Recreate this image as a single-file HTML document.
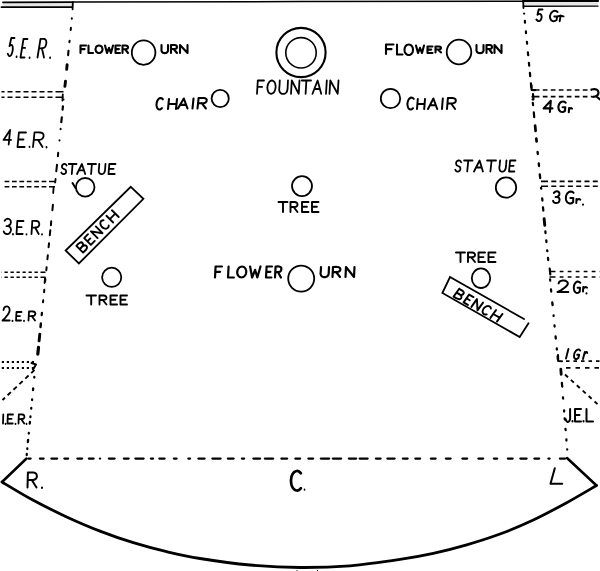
<!DOCTYPE html>
<html><head><meta charset="utf-8">
<title>Stage plan</title>
<style>
html,body{margin:0;padding:0;background:#fff;}
body{width:600px;height:571px;overflow:hidden;font-family:"Liberation Sans",sans-serif;}
svg{display:block;}
</style></head><body>
<svg width="600" height="571" viewBox="0 0 600 571">
<rect width="600" height="571" fill="#fff"/>
<g fill="none" stroke="#000" stroke-linecap="round" stroke-linejoin="round">
<!-- top lines -->
<rect x="3" y="3" width="69" height="3.6" fill="#e6e6e6" stroke="none"/>
<rect x="524" y="2" width="74" height="3.4" fill="#e6e6e6" stroke="none"/>
<path d="M3 2.3 L73 2.2" stroke-width="1.8"/>
<path d="M73 2 L300 1.6 L523 1.3" stroke-width="1.5"/>
<path d="M523 1.1 L598 0.9" stroke-width="2"/>
<path d="M1.5 7.2 L72.8 7.2 M72.8 2.5 L72.6 9.3" stroke-width="1.8"/>
<path d="M523.3 6.2 L598 6.1" stroke-width="1.4"/><path d="M523.2 1.5 L523.5 8" stroke-width="1.8"/>
<!-- side dashed lines -->
<path d="M71.8 18.3 L71.8 18.7 M70.9 27.8 L70.7 30 M69.6 40.8 L69.4 42.2 M60.6 128.8 L60.6 129.2 M59.5 140.3 L59.5 140.4 M58.2 152.8 L57.9 156.2 M57 164.8 L56.3 171.2 M52.9 204.8 L52.4 210.2 M51.2 221.3 L50.9 225.2 M50.3 230.3 L49.8 235.2 M49 243.3 L48.6 247.2 M47.8 255.3 L47.4 259.2 M46.6 267.3 L46.3 270.2 M45.4 279.3 L45.1 281.7 M44.3 289.8 L44.1 292.2 M43.2 300.3 L43 302.2" stroke-width="2"/>
<path d="M68.5 50.9 L68.1 55.1" stroke-width="2.1"/>
<path d="M67.1 64.7 L66.7 69.3 M65.5 81.2 L64.9 86.3 M39.8 334.2 L39.1 340.8" stroke-width="2.9"/>
<path d="M63.6 99.5 L63.6 99.6 M55.6 178.8 L55.2 182.5" stroke-width="1.8"/>
<path d="M62.9 106.4 L62.6 109.6 M61.8 117.4 L61.3 122.1 M41.9 312.9 L41.7 315.1" stroke-width="2.2"/>
<path d="M40.9 323.5 L40.5 327" stroke-width="2.4"/>
<path d="M38.5 347.3 L37.8 354.2" stroke-width="3.2"/>
<path d="M34.3 377 L34.3 377.5 M33.2 388.5 L33 390 M32.1 399.5 L32.1 400 M31.3 408 L31.2 408.5 M30.5 416.5 L30.4 417 M29.9 422 L29.8 423.5 M28.8 433 L28.8 433.5 M28.1 440 L27.9 442 M27.3 448.5 L27.3 449" stroke-width="2.3"/>
<path d="M26.8 453.9 L26.7 455.1" stroke-width="2.2"/>
<path d="M524.1 13.5 L524.1 13.6 M524.9 20.9 L525 22.6 M525.9 31.4 L526 33.1 M526.9 41.9 L527.1 43.6 M527.9 52.4 L528.2 55.1 M528.9 62.9 L529.2 65.6 M529.9 72.9 L530.2 76.1 M530.9 83.4 L531.3 87.1 M532.8 102.9 L533.1 105.1 M533.8 112.4 L534.2 117.1 M550.1 279.4 L550.2 280.6 M557.6 356.4 L557.8 359.1" stroke-width="2.2"/>
<path d="M532.5 99.5 L532.5 99.6" stroke-width="2"/>
<path d="M535.1 125.6 L535.6 130.9 M536.3 138.6 L536.6 141.4" stroke-width="2.7"/>
<path d="M537.6 152 L537.8 154 M538.8 163.5 L539 166 M539.8 174.5 L540.2 178 M541.1 188 L541.2 188.5 M542.2 198.5 L542.4 200.5 M543 207.5 L543.3 210.5 M545.4 231.5 L545.5 233 M546.3 240.5 L546.4 242 M547.2 250.5 L547.3 251 M548 258 L548.2 260 M551 289.5 L551.2 291.5 M552.3 302.5 L552.6 305 M553.6 315.5 L553.6 316 M554.5 325.5 L554.6 326.5 M555.6 336.5 L555.8 338.5 M556.8 348.5 L556.9 349.5" stroke-width="2.3"/>
<path d="M544.1 218.7 L544.8 225.3" stroke-width="2.9"/>
<path d="M560.8 369.2 L561.2 374.3" stroke-width="2.8"/>
<path d="M561.9 383 L562.2 386.5 M563 397.5 L563.1 398.5 M564.1 410.5 L564.1 411.5 M564.7 418.5 L564.8 419.5 M565.5 429 L565.6 430 M566.4 439.5 L566.4 440.5 M567.2 449.5 L567.2 449.6" stroke-width="2.3"/>
<!-- bottom dashed -->
<path d="M28.4 458.6 L30.6 458.6 M39.9 458.6 L43.6 458.6 M51.4 458.6 L57.1 458.6 M64.4 458.6 L68.1 458.6 M77.4 458.6 L82.1 458.6 M88.9 458.6 L93.6 458.6 M99.9 458.6 L100.1 458.6 M108.9 458.6 L114.6 458.6 M123.9 458.6 L128.6 458.6 M135.4 458.6 L143.6 458.6 M150.9 458.6 L153.1 458.6 M159.4 458.6 L164.6 458.6 M173.9 458.6 L176.6 458.6 M188.4 458.6 L190.1 458.6 M198.4 458.6 L204.6 458.6 M212.4 458.6 L220.6 458.6 M227.9 458.6 L233.6 458.6 M241.9 458.6 L244.1 458.6 M253.4 458.6 L260.1 458.6 M264.9 458.6 L273.1 458.6 M281.4 458.6 L287.1 458.6 M295.4 458.6 L300.1 458.6 M308.4 458.6 L313.1 458.6 M320.9 458.6 L329.1 458.6 M332.9 458.6 L341.1 458.6 M348.9 458.6 L356.1 458.6 M359.7 458.6 L367.6 458.6 M375.9 458.6 L380.6 458.6 M387.4 458.6 L394.6 458.6 M402.9 458.6 L407.6 458.6 M415.4 458.6 L420.1 458.6 M430.9 458.6 L435.6 458.6 M445.9 458.6 L450.6 458.6 M462.4 458.6 L467.1 458.6 M478.4 458.6 L483.1 458.6 M493.9 458.6 L497.1 458.6 M507.9 458.6 L512.6 458.6 M520.4 458.6 L526.6 458.6 M534.4 458.6 L539.1 458.6 M548.4 458.6 L549.6 458.6 M559.9 458.6 L565.1 458.6" stroke-width="2.3"/>
<!-- stage front -->
<path d="M2 482 C7.2 485.1 22.5 494.5 33.3 500.3 C44.1 506.1 55.6 511.8 66.7 516.9 C77.8 522 88.9 526.8 100 531.1 C111.1 535.4 122.2 539.3 133.3 542.7 C144.4 546.1 155.6 549.1 166.7 551.7 C177.8 554.3 186.1 556.3 200 558.5 C213.9 560.7 233.3 563.5 250 565 C266.7 566.5 283.3 567.4 300 567.5 C316.7 567.6 333.3 567.1 350 565.8 C366.7 564.4 386.1 561.5 400 559.4 C413.9 557.3 422.2 555.7 433.3 553.3 C444.4 550.9 455.6 548 466.7 544.8 C477.8 541.6 488.9 538.1 500 534 C511.1 529.9 522.2 525.2 533.3 520 C544.4 514.8 556.2 508.4 566.7 502.7 C577.2 496.9 591.5 488.4 596.5 485.5" stroke-width="2.8"/>
<path d="M26.5 458.5 L2 482 M596.5 485.5 L567 458" stroke-width="2.5"/>
<!-- wing lines -->
<path d="M63.5 91.7 L55.5 91.7 M63.5 97.3 L55.5 97.3" stroke-width="1.6" stroke-linecap="butt"/><path d="M52.5 91.7 L1.5 91.7 M52.5 97.3 L1.5 97.3" stroke-width="1.6" stroke-dasharray="5 3" stroke-linecap="butt"/>
<path d="M55 181.5 L49 181.5 M55 186.8 L49 186.8" stroke-width="1.5" stroke-linecap="butt"/><path d="M46.3 181.5 L2 181.5 M46.3 186.8 L2 186.8" stroke-width="1.5" stroke-dasharray="4.7 2.7" stroke-linecap="butt"/>
<path d="M45.5 272.3 L40.5 272.3 M45.5 277.3 L40.5 277.3" stroke-width="1.6" stroke-linecap="butt"/><path d="M37.8 272.3 L1.5 272.3 M37.8 277.3 L1.5 277.3" stroke-width="1.6" stroke-dasharray="3.3 2.7" stroke-linecap="butt"/>
<path d="M34 362 L31.8 362 M34 368 L31.8 368" stroke-width="1.8" stroke-linecap="butt"/><path d="M29 362 L1 362 M29 368 L1 368" stroke-width="1.8" stroke-dasharray="2.2 2.8" stroke-linecap="butt"/>
<path d="M34.5 370 L2.5 400" stroke-width="1.9" stroke-dasharray="4.5 3.6" stroke-linecap="butt"/>
<path d="M31.5 363 L36 364.5 L33 369.5" stroke-width="2"/>
<path d="M531.5 90 L539.5 90 M531.5 96.6 L539.5 96.6" stroke-width="1.7" stroke-linecap="butt"/><path d="M542.8 90 L592 90 M542.8 96.6 L592 96.6" stroke-width="1.7" stroke-dasharray="4.7 3.3" stroke-linecap="butt"/>
<path d="M541 181.4 L548 181.4 M541 186.3 L548 186.3" stroke-width="1.6" stroke-linecap="butt"/><path d="M551.3 181.4 L600 181.4 M551.3 186.3 L600 186.3" stroke-width="1.6" stroke-dasharray="5 3.3" stroke-linecap="butt"/>
<path d="M549.5 271.4 L555.5 271.4 M549.5 277 L555.5 277" stroke-width="1.5" stroke-linecap="butt"/><path d="M559.7 271.4 L600 271.4 M559.7 277 L600 277" stroke-width="1.5" stroke-dasharray="3.8 4.2" stroke-linecap="butt"/>
<path d="M566 361.2 L600 361.2" stroke-width="1.8" stroke-dasharray="3.5 4" stroke-linecap="butt"/>
<path d="M566 367.8 L600 367.8" stroke-width="1.8" stroke-dasharray="4.5 5" stroke-linecap="butt"/>
<path d="M565 374.5 L599 405.5" stroke-width="1.9" stroke-dasharray="4 4" stroke-linecap="butt"/>
<path d="M531.3 85 L531.6 89.8 L535 90.2" stroke-width="2.2"/>
<path d="M533 94 L533.4 99.5" stroke-width="2.2"/>
<path d="M591.5 89.5 Q598 88 598.5 92.5 Q598.5 96.5 593 96.8 M597 97 L600 99.5" stroke-width="2.2"/>
<path d="M549.7 268.5 L550.3 274.5" stroke-width="2.2"/>
<path d="M558 355 L558.2 361 L562 361.2" stroke-width="2.1"/>
<path d="M62.8 94.5 L62.4 100.5" stroke-width="1.8"/>
<path d="M53.6 187.5 L53.2 193 M45 278 L44.6 283" stroke-width="1.8"/>
<path d="M297 570.5 L297 571 M317.5 570.5 L317.5 571" stroke-width="1"/>
<!-- circles -->
<g stroke-width="1.8">
<ellipse cx="143.6" cy="52.6" rx="11.8" ry="12.2"/>
<circle cx="301" cy="52.5" r="24.6" stroke-width="2.1"/>
<circle cx="301" cy="52.8" r="15.2" stroke-width="1.6"/>
<circle cx="459" cy="52" r="12.3"/>
<circle cx="220.2" cy="98.5" r="8.6"/>
<circle cx="390.5" cy="98.5" r="9.7"/>
<circle cx="85.2" cy="187.3" r="9.3"/>
<circle cx="302" cy="186.1" r="10"/>
<circle cx="506" cy="187.5" r="10.2"/>
<circle cx="301.2" cy="278.6" r="13"/>
<circle cx="111.7" cy="277.3" r="9.6"/>
<ellipse cx="481" cy="278.2" rx="9.2" ry="9.8"/>
<path d="M72.5 183 L75.5 188" stroke-width="2"/>
</g>
<!-- benches -->
<g stroke-width="1.8" stroke-linejoin="miter">
<path d="M130.8 186.8 L143.4 198.8 L78.9 263.5 L65.6 250.5 Z"/>
<path d="M524 319 L450 277 L442.4 293 L519.7 337 L528.5 323.3"/>
</g>
<!-- lettering -->
<path d="M14.5 38 L11.3 38 L9.5 46.1 M9.5 46.1 C9.8 45.9 10.7 44.9 11.1 44.8 C11.6 44.8 12.1 44.9 12.4 45.6 C12.7 46.2 12.8 47.7 12.8 48.8 C12.8 49.9 12.6 51.3 12.2 52.4 C11.9 53.5 11.3 54.9 10.8 55.5 C10.3 56.1 9.6 56.3 9.1 56 C8.6 55.7 8.1 54.2 7.8 53.8 M16.6 56.4 L16.5 57 M27.5 39 L23.5 39 L20.5 57.5 L24.5 57.5 M22 47.9 L25.1 47.9 M29.6 57.4 L29.5 58 M37.5 57.5 L40.5 39 M40.5 39 C41.1 39 43.4 38.8 44.4 39 C45.3 39.2 45.8 39.7 46.1 40.5 C46.4 41.3 46.4 42.6 46.3 43.6 C46.1 44.7 45.7 46 45.1 46.8 C44.5 47.5 43.9 48 42.9 48.2 C41.9 48.5 39.6 48.2 39 48.2 M41.9 48.2 L44 57.5 M50.1 57.4 L50 58" stroke-width="1.8"/>
<path d="M8.7 144.5 L10.1 130 L3.5 139.9 L11 139.9 M26 132.5 L18.9 132.5 L17.5 147 L24.6 147 M18.3 139.5 L23.5 139.5 M29.5 146.6 L29.5 147 M33 147 L34.5 132.5 M34.5 132.5 C35.4 132.5 38.8 132.3 40.2 132.5 C41.6 132.7 42.4 133.1 42.9 133.7 C43.5 134.3 43.7 135.3 43.6 136.1 C43.6 136.9 43.1 138 42.4 138.6 C41.7 139.2 40.9 139.6 39.5 139.8 C38 139.9 34.7 139.8 33.7 139.8 M38 139.8 L42.5 147 M46.5 147 L46.5 147.5" stroke-width="1.8"/>
<path d="M4.6 220.8 C5 220.5 5.8 219.3 6.5 219 C7.3 218.7 8.3 218.7 9 219 C9.7 219.3 10.4 220 10.7 220.8 C10.9 221.6 10.9 223.1 10.5 223.9 C10.1 224.8 8.9 225.6 8.2 225.9 C7.6 226.2 6.8 226 6.5 226.1 M8.2 225.9 C8.6 226.2 10.2 227.2 10.6 228 C11 228.8 11 230.1 10.8 231 C10.5 231.9 9.9 233.1 9.2 233.6 C8.5 234.1 7.5 234.1 6.7 234 C5.9 233.9 5.1 233.7 4.6 233.2 C4.1 232.8 3.8 231.6 3.7 231.3 M13 234 L13 234.5 M23.5 221 L17.3 221 L16.5 234 L22.7 234 M16.9 227.2 L21.6 227.2 M26.5 234.1 L26.5 234.5 M31.5 234 L32.3 221 M32.3 221 C33 221 35.5 220.8 36.6 221 C37.7 221.2 38.3 221.5 38.7 222 C39.2 222.6 39.3 223.5 39.3 224.2 C39.3 225 39 225.9 38.5 226.5 C37.9 227 37.3 227.3 36.2 227.5 C35.1 227.7 32.6 227.5 31.9 227.5 M35.1 227.5 L38.7 234 M42 234.1 L42 234.5" stroke-width="1.8"/>
<path d="M3.5 310 C3.6 309.6 3.9 308.2 4.3 307.6 C4.8 307 5.5 306.6 6.2 306.5 C6.9 306.4 7.8 306.5 8.3 306.9 C8.9 307.4 9.5 308.4 9.6 309.3 C9.7 310.2 9.5 311.3 9.1 312.4 C8.7 313.4 7.8 314.6 7.1 315.6 C6.4 316.6 5.5 317.6 4.8 318.4 C4 319.2 2.9 320.1 2.5 320.5 M2.5 320.5 L9.7 320.5 M12.5 320.6 L12.5 321 M21.5 312 L16.5 312 L16 320.5 L21 320.5 M16.3 316.1 L20 316.1 M24 320.7 L24 321 M28.5 320.5 L29 311.5 M29 311.5 C29.7 311.5 32 311.4 32.9 311.5 C33.9 311.6 34.4 311.8 34.8 312.2 C35.2 312.6 35.4 313.2 35.4 313.8 C35.3 314.3 35.1 314.9 34.6 315.3 C34.2 315.7 33.6 315.9 32.6 316 C31.7 316.1 29.4 316 28.8 316 M31.7 316 L35 320.5" stroke-width="1.8"/>
<path d="M3.3 414.5 L3 423.5 M5.5 423.7 L5.5 424 M13 414.5 L7.8 414.5 L7.5 423.5 L12.7 423.5 M7.6 418.8 L11.6 418.8 M15.5 423.7 L15.5 424 M18.5 423.5 L18.8 414.5 M18.8 414.5 C19.3 414.5 21.4 414.4 22.2 414.5 C23.1 414.6 23.5 414.8 23.9 415.2 C24.3 415.6 24.4 416.2 24.4 416.8 C24.4 417.3 24.2 417.9 23.8 418.3 C23.4 418.7 22.9 418.9 22.1 419 C21.2 419.1 19.2 419 18.6 419 M21.2 419 L24.2 423.5 M26.5 423.7 L26.5 424" stroke-width="1.8"/>
<path d="M542.5 9.5 L538.7 9.5 L537.5 14.7 M537.5 14.7 C537.8 14.5 538.7 13.9 539.2 13.9 C539.8 13.8 540.4 13.9 540.8 14.3 C541.2 14.8 541.5 15.7 541.6 16.4 C541.7 17.1 541.6 18 541.4 18.7 C541.1 19.4 540.6 20.3 540 20.7 C539.5 21 538.7 21.2 538.1 21 C537.5 20.8 536.7 19.8 536.4 19.6 M557.6 12 C557.4 11.9 556.8 11.3 556.3 11.1 C555.8 10.9 555.2 10.8 554.7 10.8 C554.2 10.8 553.6 11 553.1 11.3 C552.6 11.6 552.1 12 551.6 12.4 C551.2 12.9 550.8 13.5 550.6 14.1 C550.3 14.7 550.1 15.4 550 16 C549.9 16.6 550 17.3 550.1 17.9 C550.2 18.5 550.5 19.1 550.8 19.6 C551.1 20 551.5 20.4 552 20.7 C552.4 21 552.9 21.2 553.5 21.2 C554 21.2 554.6 21.1 555.1 20.9 C555.6 20.7 556.4 20.1 556.6 20 M556.6 20 L557.1 16.5 L554.3 16.5 M558.1 16.2 C558.6 16.2 560 15.8 560.9 15.8 C561.8 15.8 563.2 16.3 563.6 16.4 M560.6 15.8 L559.7 21.2" stroke-width="1.9"/>
<path d="M549.9 112 L550.8 100.8 L543.6 108.4 L552.4 108.4 M565.7 102.7 C565.4 102.6 564.8 102 564.4 101.8 C563.9 101.6 563.3 101.5 562.8 101.5 C562.3 101.5 561.7 101.7 561.2 102 C560.7 102.3 560.3 102.7 559.9 103.1 C559.5 103.6 559.1 104.2 558.9 104.8 C558.6 105.4 558.5 106.1 558.4 106.8 C558.4 107.4 558.4 108.1 558.6 108.7 C558.7 109.3 559 109.9 559.3 110.4 C559.6 110.8 560 111.2 560.5 111.5 C560.9 111.8 561.5 112 562 112 C562.5 112 563.1 111.9 563.6 111.7 C564.1 111.5 564.8 110.9 565 110.8 M565 110.8 L565.3 107.3 L562.6 107.3 M569.1 108 L568.8 112.3 M569 109.7 C569.2 109.5 569.6 108.7 570 108.4 C570.3 108.1 570.8 108 571.1 108 C571.5 108 571.8 108.5 572 108.6" stroke-width="2.1"/>
<path d="M553.9 192.9 C554.2 192.7 554.9 191.7 555.6 191.5 C556.2 191.3 557.2 191.3 557.8 191.5 C558.4 191.7 559.1 192.2 559.3 192.9 C559.5 193.5 559.5 194.6 559.1 195.3 C558.8 195.9 557.8 196.5 557.2 196.8 C556.6 197.1 555.8 196.9 555.6 196.9 M557.2 196.8 C557.5 197.1 558.9 197.7 559.3 198.4 C559.7 199.1 559.6 200 559.4 200.7 C559.2 201.4 558.7 202.3 558.1 202.7 C557.5 203 556.5 203 555.8 203 C555.2 203 554.4 202.8 554 202.4 C553.5 202.1 553.3 201.2 553.1 200.9 M573.6 192.9 C573.4 192.7 572.7 192 572.2 191.8 C571.7 191.6 571.1 191.5 570.5 191.5 C569.9 191.6 569.3 191.8 568.8 192.1 C568.3 192.4 567.8 192.8 567.3 193.4 C566.9 193.9 566.6 194.6 566.3 195.3 C566.1 196 565.9 196.8 565.9 197.5 C565.8 198.2 565.9 199 566 199.7 C566.2 200.4 566.5 201.1 566.9 201.6 C567.2 202.2 567.7 202.6 568.2 202.9 C568.7 203.2 569.2 203.4 569.8 203.5 C570.3 203.5 571 203.4 571.5 203.2 C572.1 203 572.8 202.3 573.1 202.1 M573.1 202.1 L573.3 198.1 L570.4 198.1 M576.5 199 L576.3 203 M576.4 200.6 C576.6 200.4 577.2 199.7 577.6 199.4 C578.1 199.1 578.7 199 579.2 199 C579.6 199 580.1 199.5 580.3 199.6 M583 204.5 L583 204.8" stroke-width="2.0"/>
<path d="M558.6 283.4 C558.8 283 559.1 281.9 559.8 281.4 C560.4 280.9 561.5 280.6 562.5 280.5 C563.5 280.4 564.9 280.5 565.7 280.8 C566.6 281.2 567.6 282.1 567.8 282.8 C568 283.5 567.7 284.5 567.1 285.3 C566.5 286.2 565.3 287.2 564.2 288 C563.2 288.8 562 289.6 560.8 290.3 C559.7 290.9 558.1 291.7 557.5 292 M557.5 292 L568.3 292 M580.3 282.8 C580.1 282.7 579.5 282 579.1 281.8 C578.7 281.6 578.2 281.5 577.7 281.5 C577.3 281.6 576.8 281.7 576.3 282 C575.9 282.3 575.5 282.8 575.1 283.3 C574.8 283.8 574.4 284.5 574.2 285.1 C574 285.8 573.9 286.5 573.8 287.2 C573.8 288 573.9 288.7 574 289.4 C574.1 290 574.3 290.7 574.6 291.2 C574.9 291.7 575.3 292.2 575.7 292.5 C576.1 292.8 576.6 292.9 577 293 C577.5 293 578 292.9 578.4 292.7 C578.9 292.5 579.5 291.8 579.7 291.7 M579.7 291.7 L580 287.8 L577.6 287.8 M583.3 287 L583 291.5 M583.2 288.8 C583.4 288.6 583.9 287.8 584.4 287.4 C584.8 287.1 585.4 287 585.9 287 C586.3 287 586.8 287.5 587 287.6 M586.5 293.2 L586.5 293.5" stroke-width="2.0"/>
<path d="M568.4 349 L566 358.5 M580.2 350.6 C580 350.5 579.7 349.9 579.4 349.7 C579.1 349.6 578.7 349.5 578.3 349.5 C577.9 349.5 577.5 349.7 577.1 349.9 C576.6 350.2 576.2 350.6 575.8 351 C575.5 351.4 575.1 352 574.8 352.5 C574.6 353 574.3 353.7 574.2 354.2 C574 354.8 574 355.5 574 356 C574 356.5 574.1 357.1 574.2 357.5 C574.4 357.9 574.6 358.3 574.9 358.6 C575.2 358.8 575.5 359 575.9 359 C576.3 359 576.7 358.9 577.1 358.8 C577.5 358.6 578.2 358 578.4 357.9 M578.4 357.9 L579.2 354.7 L577.2 354.7 M584.8 352 L583 359 M584 354.8 C584.3 354.4 585 353.2 585.4 352.7 C585.8 352.2 586.4 352 586.7 352 C587 352 587.2 352.8 587.3 353" stroke-width="1.9"/>
<path d="M570.1 409 C570.1 410 570.1 413.6 570.1 415.2 C570.1 416.9 570.3 418 570.1 419 C569.9 420 569.5 421.1 568.9 421.5 C568.3 421.9 567.3 421.9 566.8 421.5 C566.2 421.1 565.8 419.4 565.6 419 M572.5 421.1 L572.5 421.5 M581 409 L575 409 L575 421.5 L581 421.5 M575 415 L579.5 415 M583.5 421.1 L583.5 421.5 M586.5 409 L586.5 421.5 L593 421.5" stroke-width="2.0"/>
<path d="M27.5 487.5 L27.9 472.5 M27.9 472.5 C28.9 472.5 32 472.3 33.4 472.5 C34.7 472.7 35.5 473.1 36.1 473.7 C36.6 474.3 36.9 475.4 36.9 476.2 C36.9 477.1 36.5 478.2 35.9 478.8 C35.3 479.4 34.5 479.8 33.2 480 C31.8 480.2 28.6 480 27.7 480 M31.8 480 L36.5 487.5 M42 487.5 L42 488" stroke-width="2.0"/>
<path d="M300.9 473.3 C300.6 473 299.7 471.9 299 471.5 C298.2 471.1 297.4 470.9 296.7 471 C296 471.1 295.2 471.4 294.5 471.9 C293.8 472.4 293.2 473.2 292.6 474.1 C292.1 474.9 291.7 476 291.4 477.2 C291.2 478.3 291 479.6 291 480.8 C291 481.9 291.2 483.2 291.4 484.3 C291.7 485.5 292.1 486.6 292.6 487.4 C293.2 488.3 293.8 489.1 294.5 489.6 C295.2 490.1 296 490.4 296.7 490.5 C297.4 490.6 298.2 490.4 299 490 C299.7 489.6 300.6 488.5 300.9 488.2" stroke-width="2.7"/>
<path d="M304.5 489.4 L304.5 490" stroke-width="1.6"/>
<path d="M554.8 468.3 L550.5 483.7 L562.2 483.7" stroke-width="2.0"/>
<path d="M264 80.5 L257.8 80.5 L257 93.8 M257.4 86.9 L262.1 86.9 M275.6 87.2 C275.6 88 275.4 88.9 275.1 89.7 C274.9 90.5 274.5 91.3 274.1 91.9 C273.7 92.5 273.2 93 272.7 93.3 C272.2 93.6 271.6 93.8 271.1 93.8 C270.6 93.8 270 93.6 269.6 93.3 C269.1 93 268.7 92.5 268.3 91.9 C268 91.3 267.7 90.5 267.6 89.7 C267.4 88.9 267.3 88 267.4 87.2 C267.4 86.3 267.6 85.4 267.9 84.6 C268.1 83.8 268.5 83 268.9 82.4 C269.3 81.8 269.8 81.3 270.3 81 C270.8 80.7 271.4 80.5 271.9 80.5 C272.4 80.5 273 80.7 273.4 81 C273.9 81.3 274.3 81.8 274.7 82.4 C275 83 275.3 83.8 275.4 84.6 C275.6 85.4 275.7 86.3 275.6 87.1 M279.8 80.5 C279.7 81.4 279.6 84.3 279.5 85.8 C279.4 87.4 279.1 88.7 279.2 89.8 C279.3 90.9 279.6 91.8 280.1 92.5 C280.5 93.1 281.2 93.6 281.9 93.8 C282.6 94 283.6 94 284.3 93.8 C285.1 93.6 285.8 93.1 286.3 92.5 C286.8 91.8 287.2 90.9 287.4 89.8 C287.7 88.7 287.6 87.4 287.7 85.8 C287.8 84.3 287.9 81.4 288 80.5 M291 93.8 L291.8 80.5 L298.7 93.8 L299.5 80.5 M301.8 80.5 L311 80.5 M306.4 80.5 L305.6 93.8 M312.5 93.8 L317.6 80.5 L321.2 93.8 M314.5 89 L319.7 89 M326.8 80.5 L326 93.8 M329.5 93.8 L330.3 80.5 L337.7 93.8 L338.5 80.5" stroke-width="1.8"/>
<path d="M86 45.5 L80.5 45.5 L80.5 53 M80.5 49.1 L84.6 49.1 M88.5 45.5 L88.5 53 L93 53 M102.5 49.2 C102.5 49.7 102.4 50.2 102.2 50.7 C102.1 51.1 101.8 51.6 101.5 51.9 C101.2 52.2 100.8 52.5 100.3 52.7 C99.9 52.9 99.4 53 99 53 C98.6 53 98.1 52.9 97.7 52.7 C97.2 52.5 96.8 52.2 96.5 51.9 C96.2 51.6 95.9 51.1 95.8 50.7 C95.6 50.2 95.5 49.7 95.5 49.2 C95.5 48.8 95.6 48.3 95.8 47.8 C95.9 47.4 96.2 46.9 96.5 46.6 C96.8 46.3 97.2 46 97.7 45.8 C98.1 45.6 98.6 45.5 99 45.5 C99.4 45.5 99.9 45.6 100.3 45.8 C100.8 46 101.2 46.3 101.5 46.6 C101.8 46.9 102.1 47.4 102.2 47.8 C102.4 48.3 102.5 48.8 102.5 49.2 M105 45.5 L107 53 L109 47.8 L111 53 L113 45.5 M120 45.5 L115.5 45.5 L115.5 53 L120 53 M115.5 49.1 L118.9 49.1 M122.5 53 L122.5 45.5 M122.5 45.5 C123 45.5 125 45.4 125.8 45.5 C126.6 45.6 127.1 45.8 127.5 46.1 C127.8 46.4 128 47 128 47.4 C128 47.8 127.8 48.3 127.5 48.6 C127.1 49 126.6 49.1 125.8 49.2 C125 49.4 123 49.2 122.5 49.2 M125 49.2 L128 53" stroke-width="2.1"/>
<path d="M161.5 45 C161.5 45.5 161.5 47.3 161.5 48.2 C161.5 49.1 161.4 49.9 161.5 50.6 C161.6 51.3 161.9 51.8 162.3 52.2 C162.7 52.6 163.2 52.9 163.8 53 C164.3 53.1 165.2 53.1 165.7 53 C166.3 52.9 166.8 52.6 167.2 52.2 C167.6 51.8 167.9 51.3 168 50.6 C168.1 49.9 168 49.1 168 48.2 C168 47.3 168 45.5 168 45 M171 53 L171 45 M171 45 C171.6 45 173.7 44.9 174.6 45 C175.5 45.1 176 45.3 176.4 45.6 C176.8 46 177 46.5 177 47 C177 47.5 176.8 48 176.4 48.4 C176 48.7 175.5 48.9 174.6 49 C173.7 49.1 171.6 49 171 49 M173.7 49 L177 53 M180 53 L180 45 L187.5 53 L187.5 45" stroke-width="2.1"/>
<path d="M393.5 44.5 L386 44.5 L386 54 M386 49.1 L391.6 49.1 M397 44.5 L397 54.5 L402.5 54.5 M413 49.8 C413 50.4 412.9 51.1 412.7 51.8 C412.5 52.4 412.1 53 411.8 53.5 C411.4 53.9 410.9 54.3 410.4 54.6 C409.9 54.9 409.3 55 408.8 55 C408.2 55 407.6 54.9 407.1 54.6 C406.6 54.3 406.1 53.9 405.7 53.5 C405.4 53 405 52.4 404.8 51.8 C404.6 51.1 404.5 50.4 404.5 49.8 C404.5 49.1 404.6 48.4 404.8 47.7 C405 47.1 405.4 46.5 405.7 46 C406.1 45.6 406.6 45.2 407.1 44.9 C407.6 44.6 408.2 44.5 408.8 44.5 C409.3 44.5 409.9 44.6 410.4 44.9 C410.9 45.2 411.4 45.6 411.8 46 C412.1 46.5 412.5 47.1 412.7 47.7 C412.9 48.4 413 49.1 413 49.8 M416 45.5 L418 53 L420 47.8 L422 53 L424 45.5 M432.5 46.5 L427.5 46.5 L427.5 53 L432.5 53 M427.5 49.6 L431.2 49.6 M435.5 52.5 L435.5 46.5 M435.5 46.5 C436.1 46.5 438 46.4 438.8 46.5 C439.6 46.6 440.1 46.7 440.4 47 C440.8 47.2 441 47.7 441 48 C441 48.3 440.8 48.8 440.4 49 C440.1 49.3 439.6 49.4 438.8 49.5 C438 49.6 436.1 49.5 435.5 49.5 M438 49.5 L441 52.5" stroke-width="2.1"/>
<path d="M476.5 45 C476.5 45.5 476.5 47.3 476.5 48.2 C476.5 49.1 476.4 49.9 476.5 50.6 C476.6 51.3 476.9 51.8 477.3 52.2 C477.7 52.6 478.3 52.9 478.9 53 C479.6 53.1 480.4 53.1 481.1 53 C481.7 52.9 482.3 52.6 482.7 52.2 C483.1 51.8 483.4 51.3 483.5 50.6 C483.6 49.9 483.5 49.1 483.5 48.2 C483.5 47.3 483.5 45.5 483.5 45 M486.5 53 L486.5 45 M486.5 45 C487.1 45 489 44.9 489.8 45 C490.6 45.1 491.1 45.3 491.4 45.6 C491.8 46 492 46.5 492 47 C492 47.5 491.8 48 491.4 48.4 C491.1 48.7 490.6 48.9 489.8 49 C489 49.1 487.1 49 486.5 49 M489 49 L492 53 M494.5 53 L494.5 45 L501.5 53 L501.5 45" stroke-width="2.1"/>
<path d="M222 266.5 L215.6 266.5 L215 277.5 M215.3 271.8 L220.1 271.8 M228.6 266.5 L228 277.5 L233.9 277.5 M246.2 272 C246.2 272.7 246 273.5 245.8 274.1 C245.5 274.8 245.1 275.4 244.7 275.9 C244.3 276.4 243.7 276.8 243.2 277.1 C242.7 277.3 242 277.5 241.5 277.5 C240.9 277.5 240.3 277.3 239.8 277.1 C239.3 276.8 238.8 276.4 238.4 275.9 C238 275.4 237.7 274.8 237.5 274.1 C237.3 273.5 237.2 272.7 237.3 272 C237.3 271.3 237.5 270.5 237.7 269.9 C238 269.2 238.4 268.6 238.8 268.1 C239.2 267.6 239.8 267.2 240.3 266.9 C240.8 266.7 241.5 266.5 242 266.5 C242.6 266.5 243.2 266.7 243.7 266.9 C244.2 267.2 244.7 267.6 245.1 268.1 C245.5 268.6 245.8 269.2 246 269.9 C246.2 270.5 246.3 271.3 246.2 272 M250.1 266.5 L252.1 277.5 L255.1 269.8 L257.3 277.5 L260.5 266.5 M272 266.5 L266.6 266.5 L266 277.5 L271.4 277.5 M266.3 271.8 L270.4 271.8 M275 277.5 L275.6 266.5 M275.6 266.5 C276.1 266.5 278.2 266.4 279.1 266.5 C280 266.6 280.5 266.9 280.9 267.4 C281.2 267.8 281.4 268.6 281.4 269.2 C281.3 269.9 281.1 270.7 280.7 271.1 C280.3 271.6 279.7 271.9 278.8 272 C277.9 272.1 275.9 272 275.3 272 M278 272 L280.9 277.5" stroke-width="2.2"/>
<path d="M321 267 C321 267.7 320.9 269.8 320.8 271 C320.7 272.2 320.5 273.2 320.6 274 C320.8 274.8 321.1 275.5 321.5 276 C322 276.5 322.6 276.8 323.3 277 C324 277.2 325 277.2 325.7 277 C326.4 276.8 327.1 276.5 327.6 276 C328.1 275.5 328.4 274.8 328.6 274 C328.9 273.2 328.7 272.2 328.8 271 C328.9 269.8 329 267.7 329 267 M332.5 277 L333 267 M333 267 C333.8 267 336.4 266.9 337.5 267 C338.6 267.1 339.2 267.4 339.7 267.8 C340.2 268.2 340.4 268.9 340.4 269.5 C340.3 270.1 340.1 270.8 339.5 271.2 C339 271.6 338.4 271.9 337.2 272 C336.1 272.1 333.5 272 332.8 272 M336.1 272 L340 277 M345.5 277 L346 267 L354 277 L354.5 267" stroke-width="2.2"/>
<path d="M162.8 99.3 C162.6 99.2 162.1 98.5 161.7 98.3 C161.3 98.1 160.9 98 160.4 98 C160 98.1 159.5 98.2 159.1 98.5 C158.7 98.8 158.3 99.3 157.9 99.8 C157.6 100.3 157.3 101 157 101.6 C156.8 102.3 156.6 103 156.6 103.8 C156.5 104.5 156.5 105.2 156.6 105.9 C156.7 106.5 156.9 107.2 157.1 107.7 C157.4 108.2 157.7 108.7 158.1 109 C158.4 109.3 158.9 109.4 159.3 109.5 C159.7 109.5 160.2 109.4 160.6 109.2 C161.1 109 161.7 108.3 161.9 108.2 M169 99 L168 109 M177 99 L176 109 M168.5 104 L176.5 104 M178 108.5 L183.8 98.5 L187.5 108.5 M180.3 104.9 L186 104.9 M193.5 98.5 L192.5 108.5 M197.5 108.5 L198.6 98 M198.6 98 C199.4 98 202.4 97.9 203.6 98 C204.9 98.1 205.6 98.4 206.1 98.8 C206.6 99.3 206.8 100 206.7 100.6 C206.7 101.2 206.3 102 205.7 102.4 C205.1 102.8 204.4 103.1 203.1 103.2 C201.8 103.4 198.9 103.2 198 103.2 M201.8 103.2 L205.9 108.5" stroke-width="2.1"/>
<path d="M413.8 98.9 C413.6 98.7 413.1 98 412.7 97.8 C412.3 97.6 411.8 97.5 411.3 97.5 C410.9 97.6 410.4 97.8 410 98.1 C409.6 98.4 409.1 98.8 408.8 99.4 C408.4 99.9 408.1 100.6 407.9 101.3 C407.7 102 407.5 102.8 407.5 103.5 C407.4 104.2 407.4 105 407.6 105.7 C407.7 106.4 407.9 107.1 408.1 107.6 C408.4 108.2 408.7 108.6 409.1 108.9 C409.5 109.2 410 109.4 410.4 109.5 C410.8 109.5 411.3 109.4 411.8 109.2 C412.2 109 412.8 108.3 413 108.1 M417.8 99 L417 109 M425 99 L424.2 109 M417.4 104 L424.6 104 M428 109 L433.4 98.5 L437.2 109 M430.1 105.2 L435.6 105.2 M442.8 98.5 L442 109 M447 109 L447.9 98 M447.9 98 C448.7 98 451.5 97.9 452.8 98 C454 98.1 454.6 98.4 455.1 98.9 C455.6 99.3 455.8 100.1 455.8 100.8 C455.7 101.4 455.4 102.2 454.8 102.6 C454.2 103.1 453.5 103.4 452.3 103.5 C451.1 103.6 448.3 103.5 447.4 103.5 M451.1 103.5 L455.1 109" stroke-width="2.0"/>
<path d="M66.6 165.5 C66.5 165.3 66.1 164.4 65.7 164.2 C65.3 163.9 64.7 163.9 64.1 164 C63.6 164.1 62.9 164.4 62.5 164.8 C62.1 165.2 61.9 165.9 61.9 166.5 C61.9 167.1 62.1 167.8 62.5 168.2 C62.9 168.6 63.5 168.7 64 169 C64.5 169.3 65.1 169.4 65.5 169.8 C65.9 170.2 66.1 170.9 66.1 171.5 C66.1 172.1 65.9 172.9 65.5 173.3 C65.1 173.7 64.4 173.9 63.9 174 C63.3 174.1 62.7 174.1 62.3 173.8 C61.9 173.6 61.4 172.7 61.3 172.5 M68.8 164 L76.5 164 M72.6 164 L71.8 174 M77 174 L81.9 164 L85.2 174 M78.9 170.4 L83.8 170.4 M87.8 164 L96 164 M91.9 164 L91.1 174 M99.3 164 C99.2 164.7 99.1 166.8 99 168 C98.9 169.2 98.7 170.2 98.7 171 C98.8 171.8 99 172.5 99.3 173 C99.6 173.5 100.1 173.8 100.7 174 C101.2 174.2 102 174.2 102.5 174 C103.1 173.8 103.6 173.5 104 173 C104.4 172.5 104.7 171.8 104.9 171 C105.1 170.2 105.1 169.2 105.2 168 C105.3 166.8 105.4 164.7 105.5 164 M115.5 164 L109.3 164 L108.5 174 L114.7 174 M108.9 168.8 L113.6 168.8" stroke-width="1.8"/>
<path d="M461.1 162.2 C460.9 161.9 460.6 161 460.1 160.7 C459.7 160.4 459.1 160.4 458.5 160.5 C458 160.6 457.2 160.9 456.8 161.4 C456.4 161.8 456.1 162.6 456.1 163.2 C456.1 163.9 456.4 164.7 456.7 165.1 C457.1 165.6 457.7 165.7 458.2 166 C458.8 166.3 459.4 166.4 459.8 166.9 C460.1 167.3 460.4 168.1 460.4 168.8 C460.4 169.4 460.1 170.3 459.7 170.7 C459.3 171.2 458.5 171.4 458 171.5 C457.4 171.6 456.8 171.6 456.4 171.3 C455.9 171 455.5 170.1 455.3 169.8 M464.1 160.5 L472.5 160.5 M468.3 160.5 L467.2 171.5 M474 171.5 L479.6 160.5 L482.9 171.5 M476.2 167.5 L481.5 167.5 M487.1 160.5 L496 160.5 M491.6 160.5 L490.4 171.5 M500.1 160.5 C500 161.2 499.8 163.6 499.7 164.9 C499.5 166.2 499.3 167.3 499.3 168.2 C499.4 169.1 499.6 169.8 499.9 170.4 C500.2 171 500.7 171.3 501.2 171.5 C501.8 171.7 502.6 171.7 503.2 171.5 C503.7 171.3 504.3 171 504.7 170.4 C505.2 169.8 505.5 169.1 505.7 168.2 C505.9 167.3 505.9 166.2 506.1 164.9 C506.2 163.6 506.4 161.2 506.5 160.5 M515.5 160.5 L510.1 160.5 L509 171.5 L514.4 171.5 M509.6 165.8 L513.6 165.8" stroke-width="1.8"/>
<path d="M278.5 202 L287.5 202 M283 202 L283 212 M290.5 212 L290.5 202 M290.5 202 C291.2 202 293.6 201.9 294.7 202 C295.8 202.1 296.3 202.4 296.8 202.8 C297.3 203.2 297.5 203.9 297.5 204.5 C297.5 205.1 297.3 205.8 296.8 206.2 C296.3 206.6 295.8 206.9 294.7 207 C293.6 207.1 291.2 207 290.5 207 M293.6 207 L297.5 212 M308.5 202 L302 202 L302 212 L308.5 212 M302 206.8 L306.9 206.8 M318.5 202 L312 202 L312 212 L318.5 212 M312 206.8 L316.9 206.8" stroke-width="1.9"/>
<path d="M86.5 295.5 L96 295.5 M91.2 295.5 L91.2 304.5 M99.5 304.5 L99.5 295.5 M99.5 295.5 C100.2 295.5 102.7 295.4 103.7 295.5 C104.8 295.6 105.3 295.8 105.8 296.2 C106.3 296.6 106.5 297.2 106.5 297.8 C106.5 298.3 106.3 298.9 105.8 299.3 C105.3 299.7 104.8 299.9 103.7 300 C102.7 300.1 100.2 300 99.5 300 M102.7 300 L106.5 304.5 M117 295.5 L110.5 295.5 L110.5 304.5 L117 304.5 M110.5 299.8 L115.4 299.8 M127 295.5 L120.5 295.5 L120.5 304.5 L127 304.5 M120.5 299.8 L125.4 299.8" stroke-width="1.9"/>
<path d="M456 252.5 L465 252.5 M460.5 252.5 L460.5 262 M468 262 L468 252.5 M468 252.5 C468.7 252.5 471.1 252.4 472.2 252.5 C473.2 252.6 473.8 252.9 474.3 253.3 C474.8 253.7 475 254.3 475 254.9 C475 255.4 474.8 256.1 474.3 256.5 C473.8 256.9 473.2 257.1 472.2 257.2 C471.1 257.4 468.7 257.2 468 257.2 M471.1 257.2 L475 262 M485 252.5 L478.5 252.5 L478.5 262 L485 262 M478.5 257.1 L483.4 257.1 M495.5 252.5 L488.5 252.5 L488.5 262 L495.5 262 M488.5 257.1 L493.8 257.1" stroke-width="1.9"/>
<path d="M76.4 245.9 L83.1 252.6 M76.4 245.9 C76.8 245.4 78.3 243.7 79.1 243.2 C79.9 242.6 80.7 242.4 81.3 242.3 C81.8 242.3 82.2 242.7 82.5 243.1 C82.8 243.5 83.2 244 83.1 244.5 C83.1 245.1 82.9 245.6 82.3 246.4 C81.7 247.2 80.1 248.7 79.6 249.1 M82.3 246.4 C82.7 246.2 84.1 245.4 84.7 245.3 C85.4 245.3 86 245.6 86.4 246 C86.8 246.4 87.1 247 87 247.6 C87 248.2 86.7 248.8 86.1 249.6 C85.4 250.5 83.6 252.1 83.1 252.6 M88 234.2 L84.2 238.1 L90.9 244.8 L94.8 240.9 M87.4 241.3 L90.3 238.4 M97.6 238.1 L90.9 231.4 L102.5 233.2 L95.8 226.4 M103.6 220.2 C103.4 220.3 102.6 220.3 102.1 220.5 C101.7 220.6 101.3 220.9 101 221.2 C100.8 221.6 100.5 222 100.4 222.5 C100.3 222.9 100.3 223.5 100.4 224 C100.5 224.5 100.7 225 101 225.5 C101.2 226 101.6 226.6 102 227 C102.4 227.4 102.9 227.8 103.4 228 C103.9 228.3 104.5 228.5 105 228.6 C105.5 228.7 106.1 228.7 106.5 228.6 C107 228.4 107.4 228.2 107.7 227.9 C108.1 227.7 108.4 227.3 108.5 226.8 C108.7 226.4 108.7 225.6 108.7 225.4 M106.4 215.8 L113.2 222.5 M111.9 210.3 L118.7 217 M109.8 219.2 L115.3 213.7" stroke-width="1.9"/>
<path d="M459.2 288.8 L453.6 296.6 M459.2 288.8 C459.7 289.2 461.8 290.2 462.5 290.8 C463.3 291.4 463.7 292.1 463.8 292.6 C463.9 293.1 463.6 293.6 463.3 294 C463 294.3 462.5 294.7 462 294.8 C461.4 294.9 460.8 294.9 459.9 294.5 C458.9 294.1 457.1 292.9 456.5 292.6 M459.9 294.5 C460.1 294.8 461.2 295.9 461.4 296.5 C461.6 297.1 461.4 297.7 461.1 298.2 C460.8 298.6 460.2 299.1 459.5 299.2 C458.9 299.2 458.3 299.1 457.3 298.7 C456.3 298.3 454.2 297 453.6 296.6 M473.5 297.1 L469.1 294.6 L463.6 302.4 L467.9 304.9 M466.5 298.3 L469.7 300.2 M471.4 306.9 L476.9 299.1 L477.5 310.4 L483 302.6 M490.9 308.5 C490.8 308.2 490.7 307.5 490.4 307.2 C490.2 306.8 489.8 306.5 489.4 306.3 C489 306.1 488.5 306 488 306 C487.5 306 486.9 306.1 486.4 306.3 C485.9 306.5 485.4 306.8 484.9 307.2 C484.5 307.5 484 308 483.7 308.5 C483.3 309 483 309.5 482.9 310 C482.7 310.6 482.6 311.1 482.6 311.6 C482.6 312.1 482.7 312.6 482.9 313 C483.1 313.4 483.5 313.8 483.8 314 C484.2 314.3 484.7 314.5 485.1 314.5 C485.6 314.6 486.4 314.4 486.7 314.4 M496 310.1 L490.4 317.9 M502.5 313.9 L496.9 321.6 M493.2 314 L499.7 317.7" stroke-width="1.9"/>
</g>
</svg>
</body></html>
